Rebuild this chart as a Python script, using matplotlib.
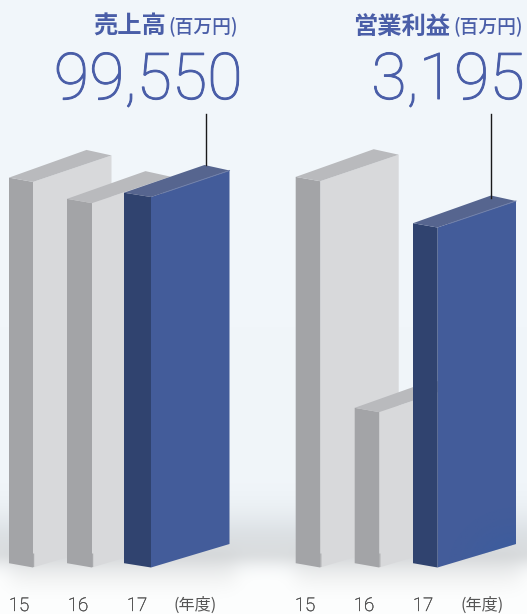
import numpy as np
import matplotlib
matplotlib.use("Agg")
import matplotlib.pyplot as plt
from matplotlib.patches import Polygon
import matplotlib.patheffects as pe

plt.rcParams['font.family'] = ['Noto Sans CJK JP', 'DejaVu Sans']

years = ['15', '16', '17']
sales = [103600, 97900, 99550]
profit = [3630, 1460, 3195]

W, H = 527, 614
BASE = 567.5
BLUE_TEXT = '#4a5ea8'

GRAY = dict(side='#a3a4a7', front='#d8d9db', top='#b9babd', edge=None, foot=True)
BLUE = dict(side='#30436f', front='#435c9a', top='#56658f', edge='#6f7fa9', foot=False)

fig = plt.figure(figsize=(W / 100, H / 100), dpi=100)

# backdrop: pale tint fading to white, with a soft floor shadow under the bars
bg = fig.add_axes([0, 0, 1, 1], zorder=0)
yy, xx = np.mgrid[0:H, 0:W]
tint = np.clip((yy - 530) / 50, 0, 1)
rgb = np.zeros((H, W, 3))
for k, (c0, c1) in enumerate(zip((0xf1, 0xf6, 0xfa), (0xfd, 0xfe, 0xfe))):
    rgb[..., k] = c0 + (c1 - c0) * tint
wall = np.exp(-((yy - 552) / np.where(yy < 552, 38, 14)) ** 2)
floor = np.exp(-((yy - 570) / 18.0) ** 2)
under = ((np.tanh((xx - 10) / 12) - np.tanh((xx - 235) / 12))
         + (np.tanh((xx - 295) / 12) - np.tanh((xx - 520) / 12))) / 2
rgb *= (1 - 0.11 * wall - 0.05 * floor * under)[..., None]
bg.imshow(rgb / 255, extent=(0, W, H, 0), aspect='auto', interpolation='bilinear')
bg.set_xlim(0, W)
bg.set_ylim(H, 0)
bg.axis('off')


def draw_bar(ax, x, value, per_px, c, side_w, front_w=78.5):
    xs, xr = x + side_w, x + side_w + front_w
    xb = xr - 25
    # px offsets of the box corners are turned into value units
    up = lambda px: px * per_px
    ax.add_patch(Polygon([(xs, 0), (xr, up(23.5)), (xr, value + up(26.5)), (xs, value)],
                         fc=c['front'], ec='none'))
    ax.add_patch(Polygon([(x, up(4.3)), (xs, 0), (xs, value), (x, value + up(4.3))],
                         fc=c['side'], ec='none'))
    ax.add_patch(Polygon([(x, value + up(4.3)), (xs, value), (xr, value + up(26.5)),
                          (xb, value + up(32))], fc=c['top'], ec='none'))
    if c['edge']:
        ax.plot([xs + 12, xr], [value + up(4), value + up(26.5)], color=c['edge'], lw=0.7)
    if c['foot']:
        # small step at the bottom of the grey boxes
        ax.add_patch(Polygon([(xs, up(0.3)), (xs + 1.2, up(0.6)), (xs + 1.2, up(14)), (xs, up(14))],
                             fc='#a9aaad', ec='none'))


def glow(ax, x, w, per_px):
    # brighter patch in the lower right of a blue front face
    ys, xs_ = np.mgrid[0:1:80j, 0:1:80j]
    rgba = np.zeros((80, 80, 4))
    rgba[..., :3] = matplotlib.colors.to_rgb('#2f5ca6')
    rgba[..., 3] = 0.55 * np.clip(1 - np.hypot(1 - xs_, 1 - ys) * 1.1, 0, 1) ** 1.5
    im = ax.imshow(rgba, extent=(x, x + w, 0, 70 * per_px), origin='upper', aspect='auto',
                   zorder=3, interpolation='bilinear')
    im.set_clip_path(Polygon([(x, 0), (x + w, 23.5 * per_px), (x + w, 70 * per_px), (x, 70 * per_px)],
                             transform=ax.transData))


def panel(x0, x1, values, per_px, lefts, sides, title, unit_x, title_right, num_right,
          lead_x, lead_y0, tick_xs, unit_label_x):
    # axes span the whole height; y runs in value units with zero on the floor
    ax = fig.add_axes([x0 / W, 0, (x1 - x0) / W, 1], zorder=1)
    ax.set_autoscale_on(False)
    ax.set_xlim(x0, x1)
    ax.set_ylim(-(H - BASE) * per_px, BASE * per_px)
    ax.patch.set_alpha(0)
    ax.axis('off')
    for i, v in enumerate(values):
        draw_bar(ax, lefts[i], v, per_px, BLUE if i == 2 else GRAY, sides[i])
    ax.plot([lead_x, lead_x], [(BASE - 114) * per_px, (BASE - lead_y0) * per_px],
            color='#1a1a1a', lw=1.0, clip_on=False)

    fig.text(title_right / W, 1 - 34 / H, title, fontsize=17.5, fontweight='bold',
             color=BLUE_TEXT, ha='right', va='baseline')
    fig.text(unit_x / W, 1 - 32.5 / H, '(百万円)', fontsize=13.5, fontweight='medium',
             color=BLUE_TEXT, ha='right', va='baseline')
    num = fig.text(num_right / W, 1 - 99 / H, f'{values[2]:,}', fontsize=46.5, family='Roboto',
                   fontweight='light', color=BLUE_TEXT, ha='right', va='baseline')
    num.set_path_effects([pe.withStroke(linewidth=0.7, foreground=BLUE_TEXT)])
    for tx, y in zip(tick_xs, years):
        t = fig.text(tx / W, 1 - 611 / H, y, fontsize=13.5, family='Roboto', fontweight='light',
                     color='#505050', ha='center', va='baseline')
        t.set_path_effects([pe.withStroke(linewidth=0.3, foreground='#505050')])
    fig.text(unit_label_x / W, 1 - 610 / H, '(年度)', fontsize=11.6, color='#555555',
             ha='center', va='baseline')
    return ax


panel(0, 264, sales, 99550 / 370.5, [9, 67, 124], [24, 25, 27], '売上高', 238, 166, 243,
      206, 165, [19, 78, 137], 195)
ax_r = panel(264, W, profit, 3195 / 340, [295.7, 354.7, 413], [24.5, 24.5, 24.5], '営業利益', 522.5, 450, 525,
             491.3, 198, [305, 364, 423], 482)
glow(ax_r, 437.5, 78.5, 3195 / 340)

fig.savefig('out.png', dpi=100)
